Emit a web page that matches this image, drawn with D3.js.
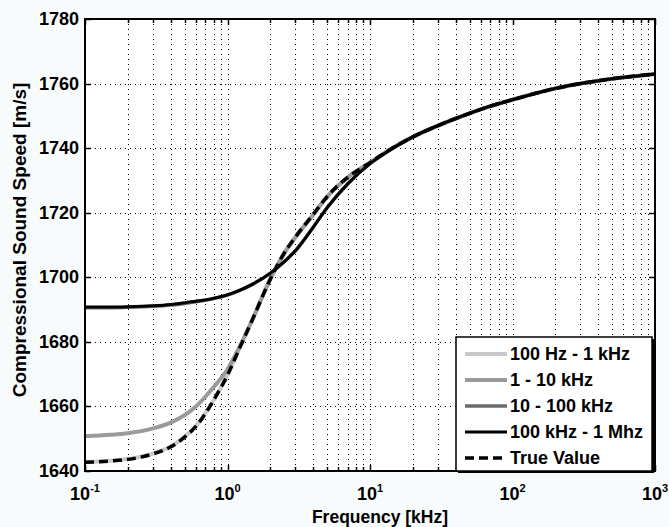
<!DOCTYPE html>
<html><head><meta charset="utf-8">
<script src="https://cdn.jsdelivr.net/npm/d3@7"></script>
<style>
html,body{margin:0;padding:0;background:#f8fbfc;}
svg{display:block;font-family:"Liberation Sans",Arial,sans-serif;}
</style></head>
<body><svg id="c" width="669" height="527"></svg>
<script>
// ---- data (frequency in kHz, speed in m/s) ----
const freqs = [0.1,0.15,0.2,0.3,0.4,0.5,0.6,0.7,0.8,1,1.2,1.5,2,2.5,3,4,5,7,10,15,20,30,50,70,100,200,300,500,1000];
const trueValue = [1642.7,1643.1,1643.6,1645.3,1647.5,1650.5,1653.8,1657.8,1662,1669.7,1677.5,1687,1699.5,1707.5,1712.5,1719.5,1725,1731,1735.5,1740.5,1743.5,1747,1750.8,1753,1755,1758.5,1760,1761.5,1763];
const fit100Hz1kHz = [1642.8,1643.2,1643.7,1645.4,1647.6,1650.6,1653.9,1657.9,1662,1669.7,1677.5,1687,1699.5,1707.5,1712.5,1719.5,1725,1731,1735.5,1740.5,1743.5,1747,1750.8,1753,1755,1758.5,1760,1761.5,1763];
const fit1to10kHz = [1650.8,1651.2,1651.7,1653.2,1655,1657.3,1660,1663,1666,1671.5,1678,1687,1699.5,1707.4,1712.4,1719.4,1724.9,1731,1735.5,1740.5,1743.5,1747,1750.8,1753,1755,1758.5,1760,1761.5,1763];
const fit10to100kHz = [1690.6,1690.6,1690.7,1691,1691.4,1691.9,1692.4,1692.9,1693.4,1694.5,1695.8,1697.8,1701.3,1704.9,1708.3,1715.6,1721.6,1729,1735.2,1740.4,1743.5,1747,1750.8,1753,1755,1758.5,1760,1761.5,1763];
const fit100kHz1MHz = [1690.8,1690.8,1690.9,1691.2,1691.6,1692.1,1692.6,1693.0,1693.5,1694.6,1695.9,1697.9,1701.3,1704.8,1708.2,1715.5,1721.5,1729,1735.2,1740.4,1743.5,1747,1750.8,1753,1755,1758.5,1760,1761.5,1763];
const yTicks = [1640,1660,1680,1700,1720,1740,1760,1780];
const xMajor = [0.1,1,10,100,1000];
const xExponents = ["-1","0","1","2","3"];
const seriesNames = ["100 Hz - 1 kHz","1 - 10 kHz","10 - 100 kHz","100 kHz - 1 Mhz","True Value"];
const seriesColors = ["#c9c9c9","#9a9a9a","#6a6a6a","#000000","#000000"];

const svg = d3.select("#c");
const L=85, R=655, T=19, B=471;
const x = d3.scaleLog().domain([0.1,1000]).range([L,R]);
const y = d3.scaleLinear().domain([1640,1780]).range([B,T]);

svg.append("rect").attr("x",L).attr("y",T).attr("width",R-L).attr("height",B-T).attr("fill","#ffffff");

// minor x positions
const xMinor = [];
for (let d=-1; d<3; d++) for (let k=2;k<=9;k++) xMinor.push(k*Math.pow(10,d));
const xAll = xMajor.concat(xMinor);

const grid = svg.append("g").attr("stroke","#000").attr("stroke-width",1).attr("stroke-dasharray","1,4");
grid.selectAll(".gx").data(xAll.filter(v=>v>0.1&&v<1000)).join("line")
  .attr("x1",d=>Math.round(x(d))+0.5).attr("x2",d=>Math.round(x(d))+0.5).attr("y1",T).attr("y2",B);
grid.selectAll(".gy").data(yTicks.filter(v=>v>1640&&v<1780)).join("line")
  .attr("y1",d=>Math.round(y(d))+0.5).attr("y2",d=>Math.round(y(d))+0.5).attr("x1",L).attr("x2",R);

// ticks (inward, all sides)
const tk = svg.append("g").attr("stroke","#000").attr("stroke-width",1.5);
xAll.forEach(v=>{
  const len = xMajor.includes(v)?6:4; const px=Math.round(x(v))+0.5;
  tk.append("line").attr("x1",px).attr("x2",px).attr("y1",B).attr("y2",B-len);
  tk.append("line").attr("x1",px).attr("x2",px).attr("y1",T).attr("y2",T+len);
});
yTicks.forEach(v=>{
  const py=Math.round(y(v))+0.5;
  tk.append("line").attr("x1",L).attr("x2",L+6).attr("y1",py).attr("y2",py);
  tk.append("line").attr("x1",R).attr("x2",R-6).attr("y1",py).attr("y2",py);
});

// lines
const line = d3.line().x((d,i)=>x(freqs[i])).y(d=>y(d)).curve(d3.curveMonotoneX);
const plotG = svg.append("g");
const allSeries = [fit100Hz1kHz, fit1to10kHz, fit10to100kHz, fit100kHz1MHz, trueValue];
const widths = [4,4,3.5,3,3.5];
allSeries.forEach((s,i)=>{
  const p = plotG.append("path").attr("d",line(s)).attr("fill","none")
    .attr("stroke",seriesColors[i]).attr("stroke-width",widths[i]).attr("stroke-linejoin","round");
  if (i===4) p.attr("stroke-dasharray","9,5");
});

// frame
svg.append("rect").attr("x",L).attr("y",T).attr("width",R-L).attr("height",B-T)
  .attr("fill","none").attr("stroke","#000").attr("stroke-width",2);

// tick labels
const fs = 18;
svg.append("g").selectAll("text").data(yTicks).join("text")
  .attr("x",L-6).attr("y",d=>y(d)+6).attr("text-anchor","end")
  .attr("font-size",fs).attr("font-weight","bold").text(d=>d);
const xl = svg.append("g");
xMajor.forEach((v,i)=>{
  const t = xl.append("text").attr("x",x(v)).attr("y",500).attr("text-anchor","middle")
    .attr("font-size",fs).attr("font-weight","bold");
  t.append("tspan").text("10");
  t.append("tspan").attr("dy",-8).attr("font-size",11).text(xExponents[i]);
});

// axis titles
svg.append("text").attr("x",380).attr("y",523).attr("text-anchor","middle")
  .attr("font-size",17.5).attr("font-weight","bold").text("Frequency [kHz]");
svg.append("text").attr("transform","translate(26,240) rotate(-90)").attr("text-anchor","middle")
  .attr("font-size",19).attr("font-weight","bold").text("Compressional Sound Speed [m/s]");

// legend
const lg = svg.append("g");
const lx=456, ly=337, lw=196, lh=134;
lg.append("rect").attr("x",lx+2).attr("y",ly+2).attr("width",lw).attr("height",lh).attr("fill","#000");
lg.append("rect").attr("x",lx).attr("y",ly).attr("width",lw).attr("height",lh).attr("fill","#fff").attr("stroke","#000").attr("stroke-width",1.5);
seriesNames.forEach((n,i)=>{
  const yy = ly+17+i*26;
  const l = lg.append("line").attr("x1",465).attr("x2",507).attr("y1",yy).attr("y2",yy)
    .attr("stroke",seriesColors[i]).attr("stroke-width",widths[i]);
  if (i===4) l.attr("stroke-dasharray","9,5");
  lg.append("text").attr("x",510).attr("y",yy+6).attr("font-size",18).attr("font-weight","bold").text(n);
});
</script></body></html>
